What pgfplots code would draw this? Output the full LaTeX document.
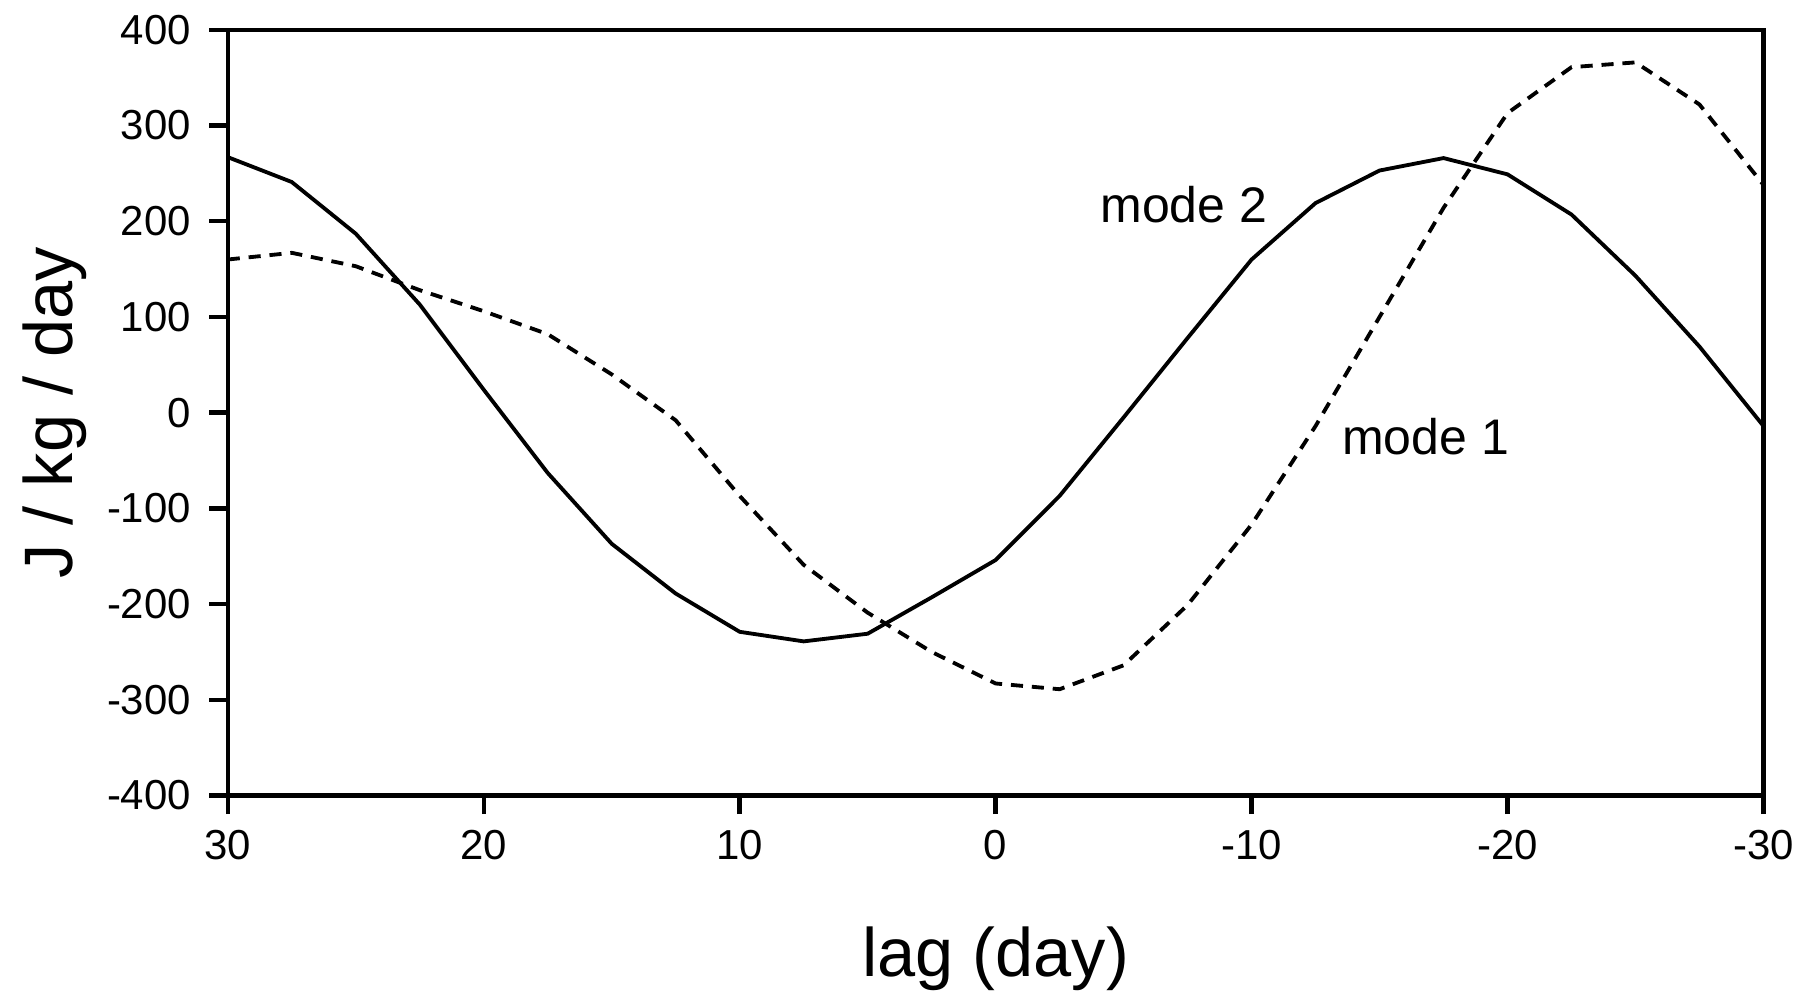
\documentclass[border=0pt]{standalone}
\usepackage{fontspec}
\setmainfont{Liberation Sans}
\usepackage{pgfplots}
\pgfplotsset{compat=1.18}
\begin{document}
\begin{tikzpicture}
\begin{axis}[
  name=ax,
  scale only axis,
  width=380.9pt, height=189.9pt,
  x dir=reverse,
  xmin=-30, xmax=30, ymin=-400, ymax=400,
  xtick={-30,-20,-10,0,10,20,30},
  xticklabels={-30,-20,-10,0,10,20,30},
  ytick={-400,-300,-200,-100,0,100,200,300,400},
  yticklabels={-400,-300,-200,-100,0,100,200,300,400},
  tick align=outside,
  xtick pos=bottom, ytick pos=left,
  major tick length=4.6pt,
  axis line style={line width=1.1pt},
  every tick/.style={line width=1.1pt, black},
  x tick label style={font=\fontsize{10.4}{12}\selectfont, yshift=-0.5pt},
  y tick label style={font=\fontsize{10.4}{12}\selectfont, xshift=-1pt},
  xlabel={lag (day)},
  ylabel={J / kg / day},
  xlabel style={font=\fontsize{17}{20}\selectfont, at={(axis description cs:0.5,0)}, anchor=center, yshift=-40.5pt},
  ylabel style={font=\fontsize{17}{20}\selectfont, at={(axis description cs:0,0.5)}, anchor=center, yshift=43pt},
  clip=false,
]
\addplot[black, line width=0.95pt] coordinates {
(30,267) (27.5,241) (25,187) (22.5,113) (20,24) (17.5,-63) (15,-137) (12.5,-189)
(10,-229) (7.5,-239) (5,-231) (2.5,-193) (0,-154) (-2.5,-87) (-5,-5) (-7.5,78)
(-10,160) (-12.5,219) (-15,253) (-17.5,266) (-20,249) (-22.5,207) (-25,143)
(-27.5,69) (-30,-14)
};
\addplot[black, line width=0.95pt, dash pattern=on 3pt off 2.2pt] coordinates {
(30,160) (27.5,167) (25,153) (22.5,128) (20,106) (17.5,82) (15,40) (12.5,-8)
(10,-87) (7.5,-159) (5,-209) (2.5,-250) (0,-283) (-2.5,-289) (-5,-264) (-7.5,-201)
(-10,-117) (-12.5,-14) (-15,100) (-17.5,214) (-20,313) (-22.5,361) (-25,366)
(-27.5,322) (-30,238)
};
\node[font=\fontsize{12.4}{14}\selectfont] at (axis cs:-7.35,217) {mode 2};
\node[font=\fontsize{12.4}{14}\selectfont] at (axis cs:-16.8,-25) {mode 1};
\end{axis}
\pgfresetboundingbox
\path ([shift={(-56.5pt,-50.8pt)}]ax.south west) rectangle ([shift={(10.3pt,7.4pt)}]ax.north east);
\end{tikzpicture}
\end{document}
